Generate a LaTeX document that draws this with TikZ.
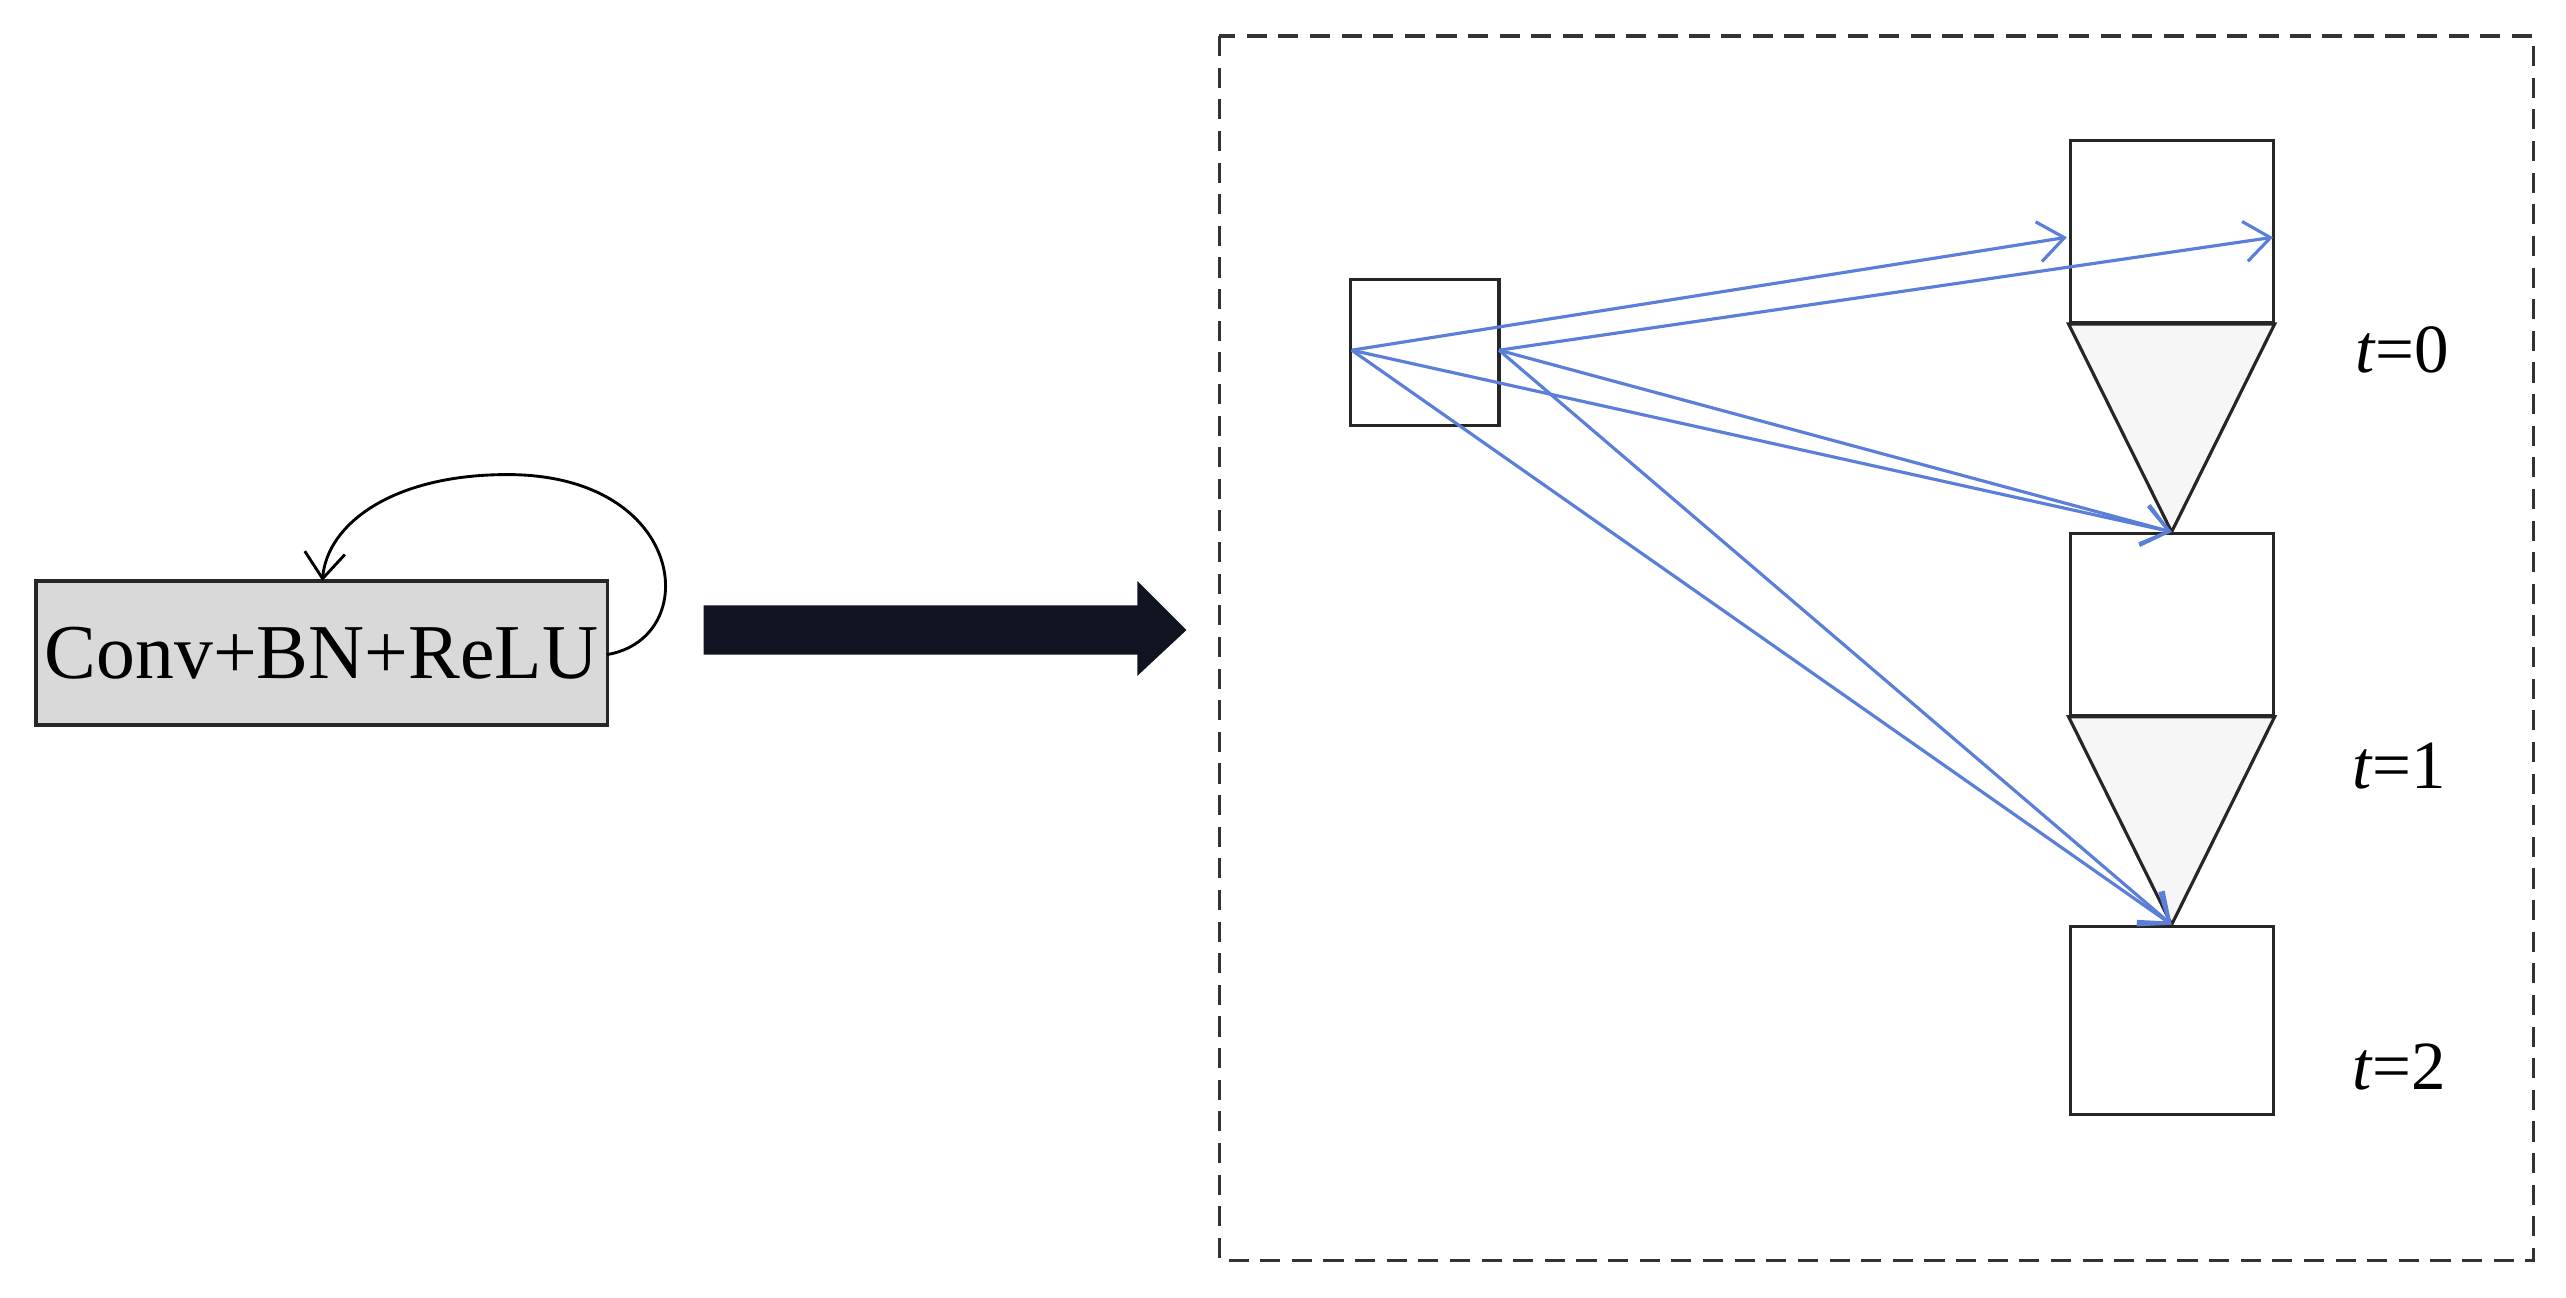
\documentclass[tikz,border=0pt]{standalone}
\usepackage{fontspec}
\setmainfont{Liberation Serif}
\usetikzlibrary{arrows.meta}
\definecolor{convgray}{RGB}{217,217,217}
\definecolor{navy}{RGB}{16,20,32}
\definecolor{arrblue}{RGB}{91,127,217}
\definecolor{trifill}{RGB}{246,246,246}
\begin{document}
\begin{tikzpicture}[x=0.02cm,y=-0.02cm,
  blk/.style={draw=black!85,line width=1.1pt},
  blue/.style={draw=arrblue,line width=1.1pt,-{Straight Barb[length=9pt,width=14pt]}},
  lbl/.style={font=\fontsize{24}{28}\selectfont}]
\useasboundingbox (0,0) rectangle (1568,793);
\draw[line width=1.1pt,black!80,dash pattern=on 7pt off 4pt] (745,22) rectangle (1548,770);
\node[blk,fill=convgray,minimum width=349*0.02cm,minimum height=88*0.02cm,inner sep=0,font=\fontsize{27}{30}\selectfont] (conv) at (196.5,399) {Conv+BN+ReLU};
\coordinate (ltop) at (197,355);
\coordinate (lr) at (371,400);
\draw[line width=1pt,-{Straight Barb[length=9pt,width=14pt]}] (lr) .. controls (430,390) and (420,290) .. (310,290) .. controls (240,290) and (200,320) .. (ltop);
\fill[navy] (430,370) -- (695,370) -- (695,355) -- (725,385) -- (695,413) -- (695,400) -- (430,400) -- cycle;
\node[blk,minimum width=91*0.02cm,minimum height=89*0.02cm,inner sep=0] (s) at (870.5,215.5) {};
\coordinate (A) at (826,214);
\coordinate (B) at (916,214);
\node[blk,minimum width=124*0.02cm,minimum height=111*0.02cm,inner sep=0] (b1) at (1327,141.5) {};
\node[blk,minimum width=124*0.02cm,minimum height=111*0.02cm,inner sep=0] (b2) at (1327,381.5) {};
\node[blk,minimum width=124*0.02cm,minimum height=115*0.02cm,inner sep=0] (b3) at (1327,623.5) {};
\draw[blk,fill=trifill] (b1.south west) -- (b1.south east) -- (b2.north) -- cycle;
\draw[blk,fill=trifill] (b2.south west) -- (b2.south east) -- (b3.north) -- cycle;
\node[lbl] (t0) at (1468,214) {\textit{t}=0};
\node[lbl] (t1) at (1466,468) {\textit{t}=1};
\node[lbl] (t2) at (1466,652) {\textit{t}=2};
\coordinate (p1) at (1263,145);
\coordinate (p2) at (1389,145);
\draw[blue] (A) -- (p1);
\draw[blue] (B) -- (p2);
\draw[blue] (A) -- (b2.north);
\draw[blue] (B) -- (b2.north);
\draw[blue] (A) -- (b3.north);
\draw[blue] (B) -- (b3.north);
\end{tikzpicture}
\end{document}
